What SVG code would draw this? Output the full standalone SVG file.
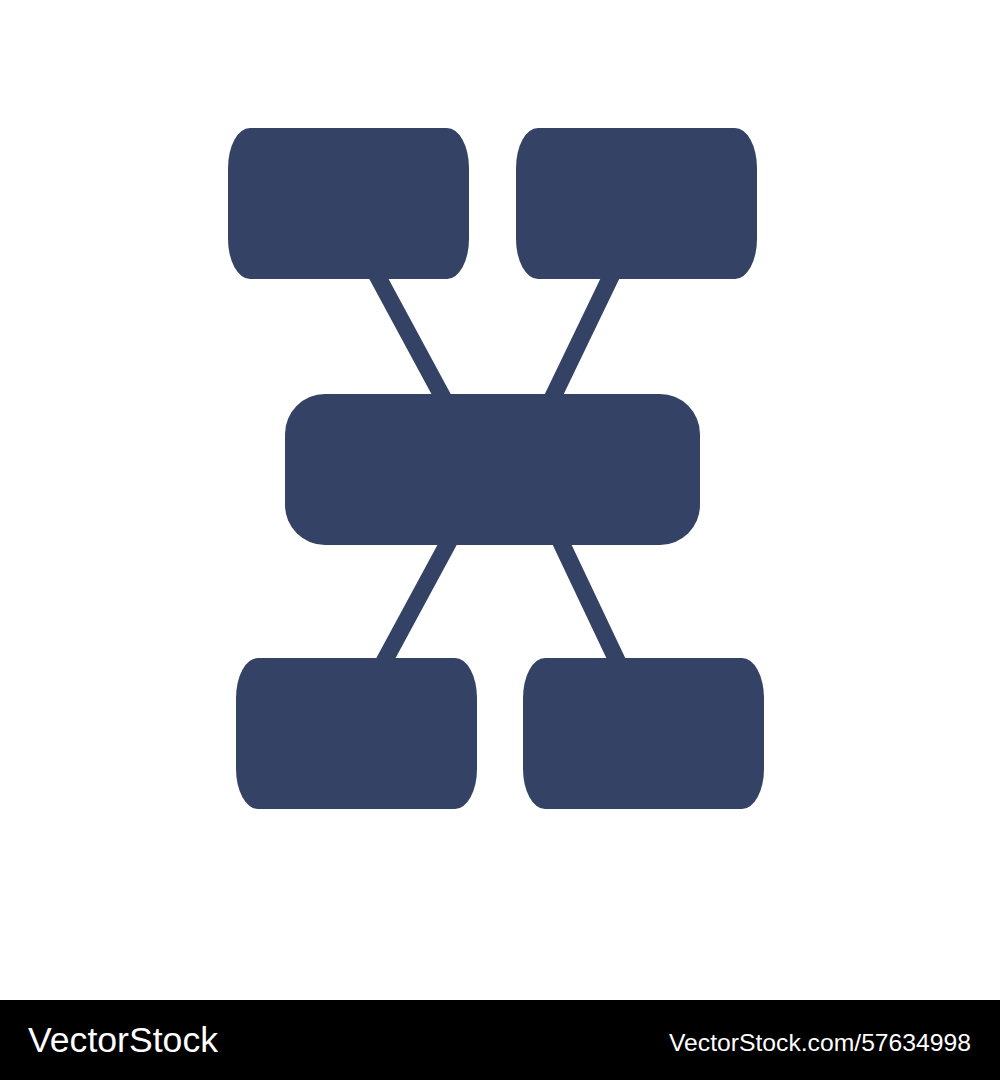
<svg xmlns="http://www.w3.org/2000/svg" width="1000" height="1080" viewBox="0 0 1000 1080">
<style>
.n{fill:#344265}
.c{stroke:#344265;stroke-width:17;fill:none}
.w{fill:#fff;font-family:"Liberation Sans",Arial,sans-serif}
</style>
<rect width="1000" height="1080" fill="#fff"/>
<g id="connectors">
<line class="c" x1="373" y1="268" x2="447" y2="405"/>
<line class="c" x1="615" y1="268" x2="549" y2="405"/>
<line class="c" x1="453" y1="534" x2="380" y2="669"/>
<line class="c" x1="557" y1="534" x2="621" y2="669"/>
</g>
<g id="node-top-left"><rect class="n" x="228" y="128" width="241" height="151" rx="22" ry="40"/></g>
<g id="node-top-right"><rect class="n" x="516" y="128" width="241" height="151" rx="22" ry="40"/></g>
<g id="node-center"><rect class="n" x="285" y="394" width="415" height="151" rx="40" ry="40"/></g>
<g id="node-bottom-left"><rect class="n" x="236" y="658" width="241" height="151" rx="22" ry="40"/></g>
<g id="node-bottom-right"><rect class="n" x="523" y="658" width="241" height="151" rx="22" ry="40"/></g>
<g id="footer">
<rect x="0" y="1000" width="1000" height="80" fill="#000"/>
<text class="w" x="28" y="1052" font-size="35" textLength="190" lengthAdjust="spacingAndGlyphs">VectorStock</text>
<text class="w" x="669" y="1051" font-size="24" textLength="302" lengthAdjust="spacingAndGlyphs">VectorStock.com/57634998</text>
</g>
</svg>
